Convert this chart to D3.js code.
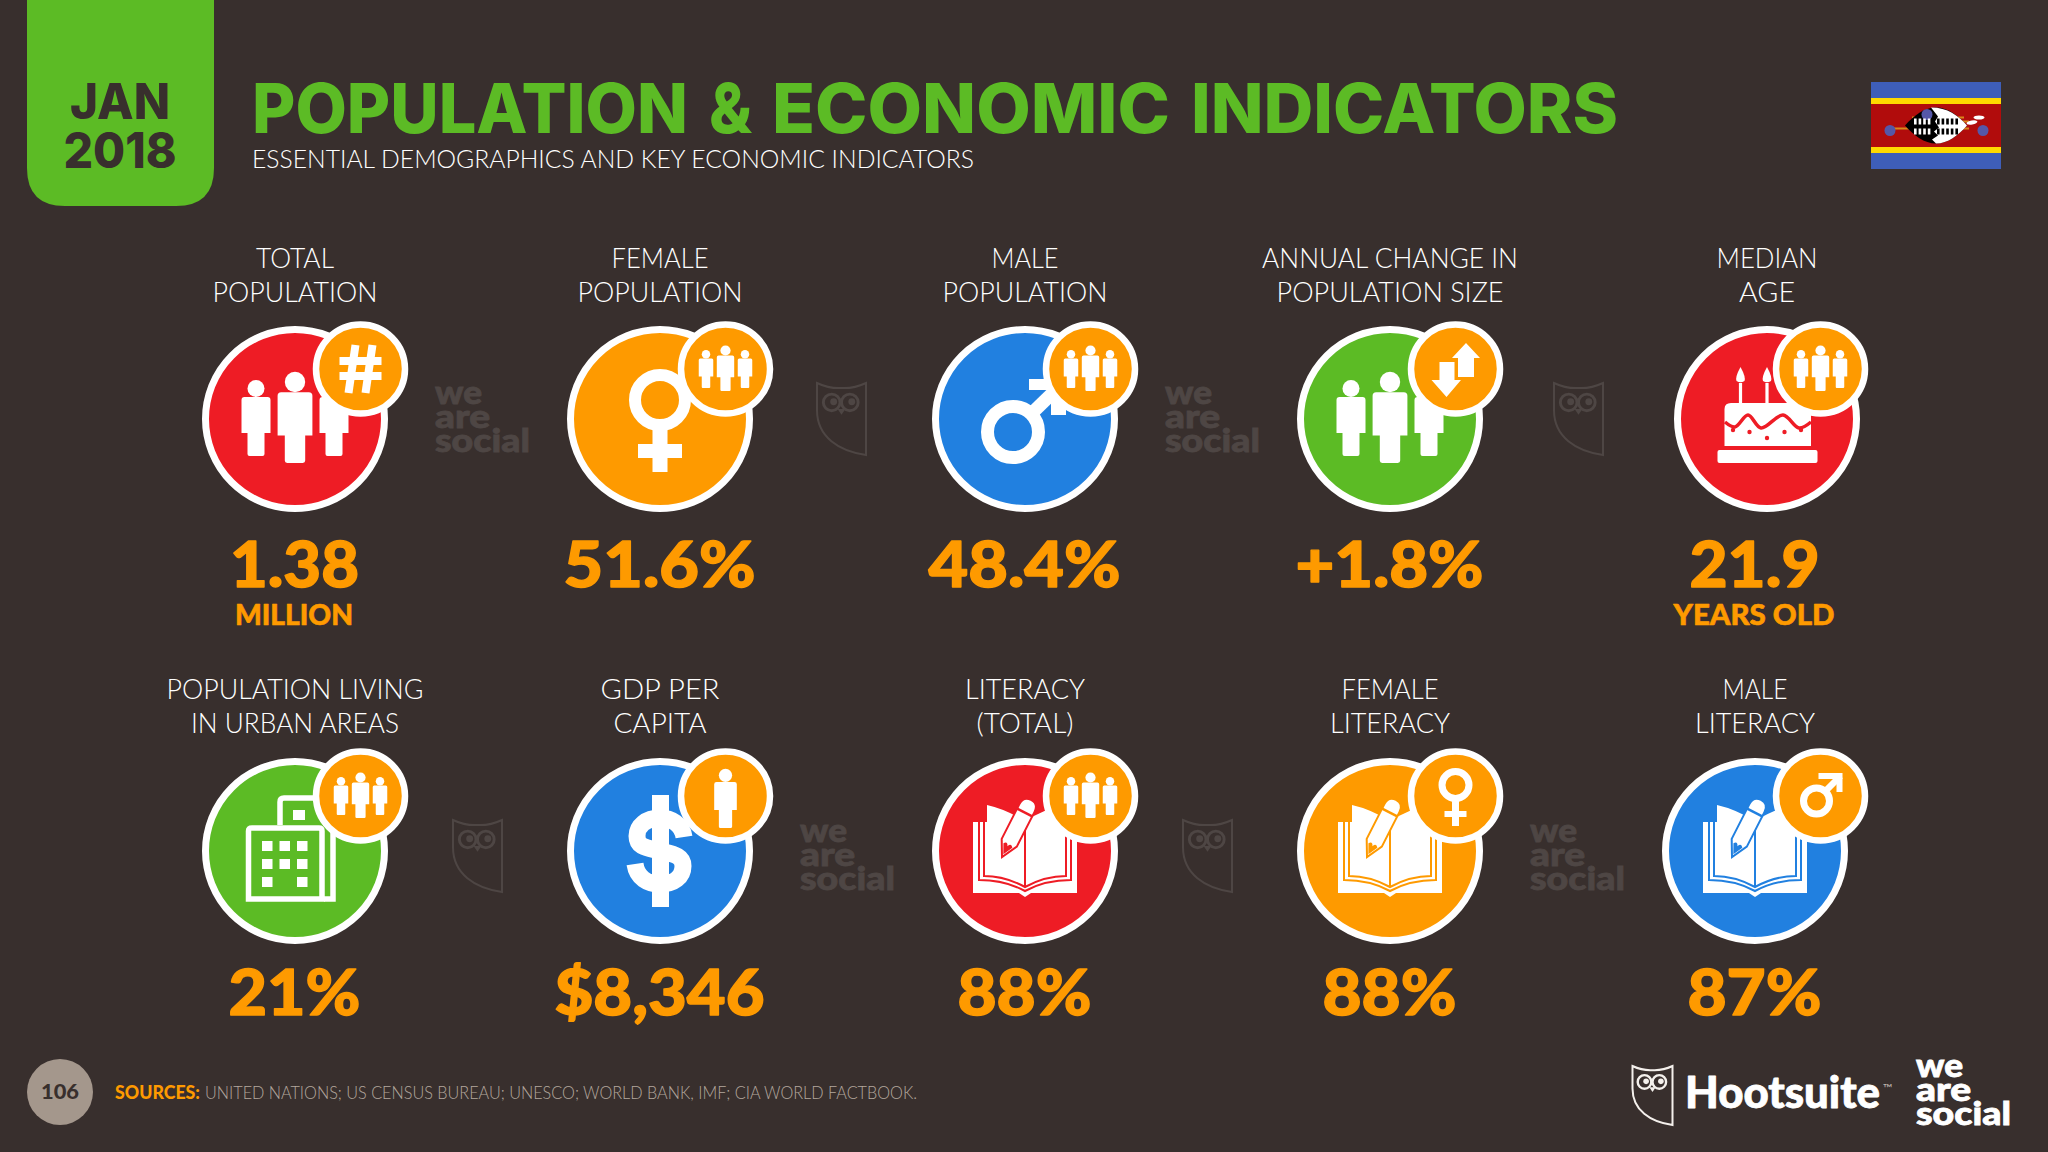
<!DOCTYPE html>
<html><head><meta charset="utf-8">
<script src="https://cdnjs.cloudflare.com/ajax/libs/d3/7.8.5/d3.min.js"></script>
<style>html,body{margin:0;padding:0;background:#382F2D}svg{display:block}</style>
</head><body><svg id="c" width="2048" height="1152" xmlns="http://www.w3.org/2000/svg"></svg>
<script>
// ---- data ----
const titleText = "POPULATION & ECONOMIC INDICATORS";
const subtitleText = "ESSENTIAL DEMOGRAPHICS AND KEY ECONOMIC INDICATORS";
const dateLines = ["JAN", "2018"];
const labelsRow1 = [["TOTAL","POPULATION"],["FEMALE","POPULATION"],["MALE","POPULATION"],["ANNUAL CHANGE IN","POPULATION SIZE"],["MEDIAN","AGE"]];
const labelsRow2 = [["POPULATION LIVING","IN URBAN AREAS"],["GDP PER","CAPITA"],["LITERACY","(TOTAL)"],["FEMALE","LITERACY"],["MALE","LITERACY"]];
const valuesRow1 = ["1.38","51.6%","48.4%","+1.8%","21.9"];
const valuesRow2 = ["21%","$8,346","88%","88%","87%"];
const unitsRow1 = ["MILLION","","","","YEARS OLD"];
const unitsRow2 = ["","","","",""];
const pageNumber = "106";
const sourcesHead = "SOURCES:";
const sourcesText = "UNITED NATIONS; US CENSUS BUREAU; UNESCO; WORLD BANK, IMF; CIA WORLD FACTBOOK.";

// ---- layout & style ----
const iconRow1 = ["people","female","male","people","cake"];
const iconRow2 = ["building","dollar","book","book","book"];
const badgeRow1 = ["hash","people","people","arrows","people"];
const badgeRow2 = ["people","person","people","female","male"];
const RED="#EE1C25", ORANGE="#FE9A00", BLUE="#2180E0", GREEN="#5CBB25", BG="#382F2D", WM="#4E4644", TAUPE="#A4978C";
const fillRow1 = [RED,ORANGE,BLUE,GREEN,RED];
const fillRow2 = [GREEN,BLUE,RED,ORANGE,BLUE];
const labelW1 = [[78,165],[97,165],[67,165],[256,227],[101,56]];
const labelW2 = [[257,208],[119,93],[120,97],[97,120],[65,120]];
const valueW1 = [129,192,192,188,130];
const valueW2 = [132,210,134,134,134];
const unitW1 = [118,0,0,0,161];
const titleX = [252,709,772,1191], titleW = [436,43,398,427];
const rows = [
 {labels:labelsRow1,values:valuesRow1,units:unitsRow1,icons:iconRow1,badges:badgeRow1,fills:fillRow1,lw:labelW1,vw:valueW1,uw:unitW1,
  base1:268,base2:302,valBase:587,unitBase:625,badgeDy:-50,nudge:[0,0,0,0,12],badgeDx:[65.5,65.5,65.5,65.5,53.5]},
 {labels:labelsRow2,values:valuesRow2,units:unitsRow2,icons:iconRow2,badges:badgeRow2,fills:fillRow2,lw:labelW2,vw:valueW2,uw:[0,0,0,0,0],
  base1:699,base2:733,valBase:1015,unitBase:0,badgeDy:-55,nudge:[0,0,0,0,0],badgeDx:[65.5,65.5,65.5,65.5,65.5]}
];
const xCol = d3.scalePoint().domain(d3.range(5)).range([295,1755]);
const yRow = d3.scalePoint().domain([0,1]).range([419,851]);
const LIGHT="Lato, 'Noto Sans', sans-serif";
const svg = d3.select("#c");

function fit(sel,w){ if(w>0) sel.attr("textLength",w).attr("lengthAdjust","spacingAndGlyphs"); return sel; }
function txt(p,s,x,y,size,weight,fill,anchor,w,family){
  return fit(p.append("text").text(s).attr("x",x).attr("y",y)
    .attr("font-family",family||LIGHT).attr("font-size",size).attr("font-weight",weight)
    .attr("fill",fill).attr("text-anchor",anchor||"middle"),w);
}
const heavy=(sel,w)=>sel.attr("stroke",sel.attr("fill")).attr("stroke-width",w).attr("stroke-linejoin","round");

// background
svg.append("rect").attr("width",2048).attr("height",1152).attr("fill",BG);

// date tab
svg.append("path").attr("d","M27,0H214V168Q214,206 176,206H65Q27,206 27,168Z").attr("fill",GREEN);
txt(svg,dateLines[0],120,119,49,800,BG,"middle",100,"Inter, Lato, sans-serif");
txt(svg,dateLines[1],120,168,49,800,BG,"middle",113,"Inter, Lato, sans-serif");

// title
const tt=svg.append("text").attr("y",133).attr("font-family","Inter, Lato, sans-serif").attr("font-size",69).attr("font-weight",800).attr("fill",GREEN);
titleText.split(" ").forEach((w,i)=>{
  if(i) tt.node().appendChild(document.createTextNode(" "));
  fit(tt.append("tspan").attr("x",titleX[i]).text(w),titleW[i]);
});
txt(svg,subtitleText,252,168,25,300,"#FFFFFF","start",722);

// flag
const flag = svg.append("g").attr("transform","translate(1936,125.5)");
flag.append("rect").attr("x",-65).attr("y",-43.5).attr("width",130).attr("height",87).attr("fill","#3E5EB9");
flag.append("rect").attr("x",-65).attr("y",-27.5).attr("width",130).attr("height",55).attr("fill","#FFD900");
flag.append("rect").attr("x",-65).attr("y",-21.5).attr("width",130).attr("height",43).attr("fill","#B10C0C");
[[-24,-8,28,-8],[-50,3,33,3],[8,-4,33,-4]].forEach(d=>flag.append("line").attr("x1",d[0]).attr("y1",d[1]).attr("x2",d[2]).attr("y2",d[3]).attr("stroke","#D9871A").attr("stroke-width",2));
flag.append("path").attr("d","M-31,0C-22,-10 -12,-18 0,-18C12,-18 22,-10 31,0C22,10 12,18 0,18C-12,18 -22,10 -31,0Z").attr("fill","#000");
flag.append("path").attr("d","M-5,-18C12,-18 22,-10 31,0C22,10 12,18 0,18L-4,14L2,10L-2,6L3,2L-1,-4L2,-9Z").attr("fill","#FFF");
[[-46,5],[47,5],[-9,-11]].forEach(d=>flag.append("circle").attr("cx",d[0]).attr("cy",d[1]).attr("r",5.5).attr("fill","#5557A8"));
[-6,4].forEach(y=>d3.range(10).forEach(i=>{
  if(i===4) return;
  flag.append("rect").attr("x",-22+i*4.6).attr("y",y-1).attr("width",2.6).attr("height",6).attr("fill",i<4?"#FFF":"#000");}));
flag.append("ellipse").attr("cx",36).attr("cy",-3).attr("rx",5.5).attr("ry",2).attr("fill","#FFF").attr("transform","rotate(-10 36 -3)");
flag.append("ellipse").attr("cx",43).attr("cy",-8).attr("rx",5.5).attr("ry",2).attr("fill","#FFF");

// icon helpers
function person(g,cx,bottom,s,fill){
  const p=g.append("g").attr("transform",`translate(${cx},${bottom}) scale(${s})`).attr("fill",fill||"#fff");
  p.append("circle").attr("cx",0).attr("cy",-67.5).attr("r",8.5);
  p.append("path").attr("d","M-11.5,-59H11.5Q14.5,-59 14.5,-56V-23H8.5V-2Q8.5,0 6.5,0H-6.5Q-8.5,0 -8.5,-2V-23H-14.5V-56Q-14.5,-59 -11.5,-59Z");
}
function people(g,s,off){
  person(g,-39*s,off+37*s,s); person(g,39*s,off+37*s,s); person(g,0,off+44*s,1.2*s);
}
const mainIcons = {
  people:(g)=>people(g,1,0),
  female:(g)=>{
    g.append("circle").attr("cx",0).attr("cy",-19).attr("r",25).attr("fill","none").attr("stroke","#fff").attr("stroke-width",12);
    g.append("rect").attr("x",-7.5).attr("y",9).attr("width",15).attr("height",44).attr("fill","#fff");
    g.append("rect").attr("x",-22).attr("y",25).attr("width",44).attr("height",14).attr("fill","#fff");
  },
  male:(g)=>{
    g.append("circle").attr("cx",-12).attr("cy",13).attr("r",25.5).attr("fill","none").attr("stroke","#fff").attr("stroke-width",13);
    g.append("line").attr("x1",5).attr("y1",-4).attr("x2",38).attr("y2",-36).attr("stroke","#fff").attr("stroke-width",13);
    g.append("rect").attr("x",4).attr("y",-40).attr("width",44).attr("height",11).attr("fill","#fff");
    g.append("rect").attr("x",26).attr("y",-40).attr("width",15).attr("height",36).attr("fill","#fff");
  },
  cake:(g,c)=>{
    g.append("rect").attr("x",-49.5).attr("y",31).attr("width",100).attr("height",13).attr("rx",2).attr("fill","#fff");
    g.append("path").attr("d","M-42.5,27V-10Q-42.5,-16 -36,-16H38Q44,-16 44,-10V27Z").attr("fill","#fff");
    g.append("path").attr("d",d3.line().curve(d3.curveCatmullRom)([[-42,3],[-32,8],[-19,-4],[-6,9],[16,-4],[32,9],[44,3]]))
      .attr("fill","none").attr("stroke",c).attr("stroke-width",3.5);
    [[-34,11],[-17.5,13],[0,19],[17.5,13],[34,11]].forEach(d=>g.append("circle").attr("cx",d[0]).attr("cy",d[1]).attr("r",2.2).attr("fill",c));
    [-26.5,0].forEach(x=>{
      g.append("rect").attr("x",x-1.6).attr("y",-36).attr("width",3.2).attr("height",20).attr("fill","#fff");
      g.append("path").attr("d",`M${x},-52Q${x+5.5},-42 ${x+4},-38Q${x},-35.5 ${x-4},-38Q${x-5.5},-42 ${x},-52Z`).attr("fill","#fff");
    });
  },
  building:(g,c)=>{
    g.append("path").attr("d","M-15,-26V-49Q-15,-53 -11,-53H30").attr("fill","none").attr("stroke","#fff").attr("stroke-width",5.5);
    g.append("rect").attr("x",-2).attr("y",-41).attr("width",12).attr("height",10).attr("fill","#fff");
    g.append("path").attr("d","M-46.5,48V-20Q-46.5,-23 -43,-23H24Q27,-23 27,-20V48Z").attr("fill",c).attr("stroke","#fff").attr("stroke-width",5.5);
    g.append("path").attr("d","M38,-20V48H29").attr("fill","none").attr("stroke","#fff").attr("stroke-width",5.5);
    [[-33,-10],[-15.5,-10],[2,-10],[-33,8],[-15.5,8],[2,8],[-33,26],[2,26]].forEach(d=>
      g.append("rect").attr("x",d[0]).attr("y",d[1]).attr("width",10.5).attr("height",10).attr("fill","#fff"));
  },
  dollar:(g)=>{
    g.append("rect").attr("x",-8).attr("y",-56).attr("width",17).attr("height",112).attr("fill","#fff");
    g.append("path").attr("d","M24,-14C22,-27 11,-33 0,-33C-14,-33 -23,-25 -23,-15C-23,-3 -12,-3 0,0C12,3 23,4 23,15C23,26 14,33 0,33C-12,33 -23,27 -25,13")
      .attr("fill","none").attr("stroke","#fff").attr("stroke-width",17);
  },
  book:(g,c)=>{
    g.append("path").attr("d","M-52,-29H-38L-38,-46Q-20,-42 0,-30Q20,-42 38,-46L38,-29H52V42H6L0,46L-6,42H-52Z").attr("fill","#fff");
    [[46,29,40],[41,25,36]].forEach(d=>g.append("path").attr("d",`M-${d[0]},-29V${d[1]}Q-20,${d[1]} 0,${d[2]}Q20,${d[1]} ${d[0]},${d[1]}V-29`)
      .attr("fill","none").attr("stroke",c).attr("stroke-width",2));
    g.append("line").attr("x1",0).attr("y1",-30).attr("x2",0).attr("y2",36).attr("stroke",c).attr("stroke-width",2);
    const p=g.append("g").attr("transform","translate(-23,6) rotate(27)");
    p.append("path").attr("d","M0,0L-8.5,-16V-55Q-8.5,-64 0,-64Q8.5,-64 8.5,-55V-16Z").attr("fill","#fff").attr("stroke",c).attr("stroke-width",2);
    p.append("line").attr("x1",-8.5).attr("y1",-50).attr("x2",8.5).attr("y2",-50).attr("stroke",c).attr("stroke-width",2.5);
    p.append("path").attr("d","M0,-3L-5,-13Q-2,-17 0,-12Q2,-17 5,-13Z").attr("fill",c);
  }
};
const badgeIcons = {
  people:(g)=>{ person(g,-19.5,19,0.5); person(g,19.5,19,0.5); person(g,0,22,0.6); },
  person:(g)=>person(g,0,32,0.78),
  hash:(g)=>{
    [[-5,-24,-12,24],[12,-24,5,24],[-21,-8,21,-8],[-21,7,21,7]].forEach(d=>
      g.append("line").attr("x1",d[0]).attr("y1",d[1]).attr("x2",d[2]).attr("y2",d[3]).attr("stroke","#fff").attr("stroke-width",8));
  },
  arrows:(g)=>{
    g.append("path").attr("d","M10.5,-26L24.5,-11H18.5V8H2.5V-11H-3.5Z").attr("fill","#fff");
    g.append("path").attr("d","M-16,-7H-1V11H5.5L-9,28L-24,11H-16Z").attr("fill","#fff");
  },
  female:(g)=>{
    g.append("circle").attr("cx",0).attr("cy",-11).attr("r",13.5).attr("fill","none").attr("stroke","#fff").attr("stroke-width",7);
    g.append("rect").attr("x",-3.5).attr("y",4).attr("width",7).attr("height",26).attr("fill","#fff");
    g.append("rect").attr("x",-11).attr("y",15).attr("width",22).attr("height",6).attr("fill","#fff");
  },
  male:(g)=>{
    g.append("circle").attr("cx",-4).attr("cy",5).attr("r",13).attr("fill","none").attr("stroke","#fff").attr("stroke-width",7);
    g.append("line").attr("x1",5).attr("y1",-5).attr("x2",20).attr("y2",-20).attr("stroke","#fff").attr("stroke-width",6.5);
    g.append("path").attr("d","M-2,-23H22V-4H16V-17H-2Z").attr("fill","#fff");
  }
};

// logos
function weAreSocial(p,x,y,fill){
  const t=p.append("text").attr("font-family",LIGHT).attr("font-size",32).attr("font-weight",900).attr("fill",fill).attr("stroke",fill).attr("stroke-width",.8);
  [["we",0,47],["are",23.5,55],["social",47.5,95]].forEach((l,i)=>{
    if(i) t.node().appendChild(document.createTextNode(" "));
    fit(t.append("tspan").attr("x",x).attr("y",y+l[1]).text(l[0]),l[2]);
  });
}
function owl(p,x,y,w,h,color){
  const X=t=>x+t*w, Y=t=>y+t*h;
  p.append("path").attr("d",`M${X(0)},${Y(0)}Q${X(.25)},${Y(.08)} ${X(.5)},${Y(.07)}Q${X(.75)},${Y(.08)} ${X(1)},${Y(0)}V${Y(1)}C${X(.45)},${Y(.95)} ${X(0)},${Y(.75)} ${X(0)},${Y(.38)}Z`)
    .attr("fill","none").attr("stroke",color).attr("stroke-width",2);
  [[.3,.27],[.67,.27]].forEach(d=>{
    p.append("circle").attr("cx",X(d[0])).attr("cy",Y(d[1])).attr("r",w*.17).attr("fill","none").attr("stroke",color).attr("stroke-width",w*.06);
    p.append("circle").attr("cx",X(d[0]+.04)).attr("cy",Y(d[1]-.01)).attr("r",w*.07).attr("fill",color);
  });
  p.append("path").attr("d",`M${X(.42)},${Y(.36)}H${X(.58)}L${X(.5)},${Y(.44)}Z`).attr("fill",color);
}

// tiles
rows.forEach((r,ri)=>{
  const cy=yRow(ri);
  r.labels.forEach((lines,i)=>{
    const cx=xCol(i)+r.nudge[i], vx=xCol(i)-0.5;
    txt(svg,lines[0],cx,r.base1,27,300,"#FFFFFF","middle",r.lw[i][0]);
    txt(svg,lines[1],cx,r.base2,27,300,"#FFFFFF","middle",r.lw[i][1]);
    const t=svg.append("g").attr("transform",`translate(${cx},${cy})`);
    t.append("circle").attr("r",89.5).attr("fill",r.fills[i]).attr("stroke","#fff").attr("stroke-width",7);
    mainIcons[r.icons[i]](t,r.fills[i]);
    const b=t.append("g").attr("transform",`translate(${r.badgeDx[i]},${r.badgeDy})`);
    b.append("circle").attr("r",44.5).attr("fill",ORANGE).attr("stroke","#fff").attr("stroke-width",6.5);
    badgeIcons[r.badges[i]](b);
    heavy(txt(svg,r.values[i],vx,r.valBase,62,900,ORANGE,"middle",r.vw[i]),1.4);
    if(r.units[i]) heavy(txt(svg,r.units[i],xCol(i)-(i===4?1:1),r.unitBase,29,900,ORANGE,"middle",r.uw[i]),.6);
  });
});

// watermarks
[[0,0],[0,2],[1,1],[1,3]].forEach(d=>weAreSocial(svg,xCol(d[1])+140,yRow(d[0])+(d[0]?-9:-15),WM));
[[0,1,0],[0,3,7],[1,0,1],[1,2,1]].forEach(d=>owl(svg,xCol(d[1])+157+d[2],yRow(d[0])+(d[0]?-31:-36),49,72,WM));

// footer
svg.append("circle").attr("cx",60).attr("cy",1092).attr("r",33).attr("fill",TAUPE);
txt(svg,pageNumber,60,1099,21,900,BG,"middle",38);
txt(svg,sourcesHead,115,1099,18,900,ORANGE,"start",85);
txt(svg,sourcesText,205,1099,18,300,"#B3A79D","start",712);
owl(svg,1632.5,1066,40,59,"#F4F0EC");
heavy(txt(svg,"Hootsuite",1685,1108,43,900,"#FFFFFF","start",195),.8);
txt(svg,"™",1883,1092,11,400,"#BDB5AE","start",10);
weAreSocial(svg,1916,1077,"#FFFFFF");
</script></body></html>
